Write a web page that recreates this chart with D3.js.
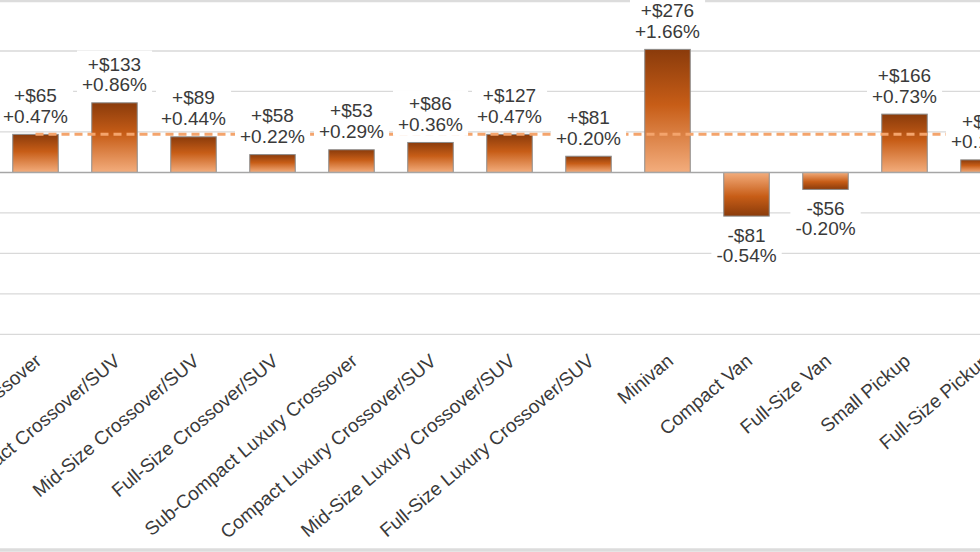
<!DOCTYPE html>
<html>
<head>
<meta charset="utf-8">
<script src="https://cdn.jsdelivr.net/npm/d3@7"></script>
<style>
  html, body { margin: 0; padding: 0; background: #fff; }
  svg { display: block; }
</style>
</head>
<body>
<svg id="chart" width="980" height="552"></svg>
<script>
const categories = [
  "Sub-Compact Crossover", "Compact Crossover/SUV", "Mid-Size Crossover/SUV",
  "Full-Size Crossover/SUV", "Sub-Compact Luxury Crossover", "Compact Luxury Crossover/SUV",
  "Mid-Size Luxury Crossover/SUV", "Full-Size Luxury Crossover/SUV", "Minivan",
  "Compact Van", "Full-Size Van", "Small Pickup", "Full-Size Pickup"
];
const barValues = [0.47, 0.86, 0.44, 0.22, 0.28, 0.37, 0.47, 0.20, 1.52, -0.54, -0.21, 0.72, 0.155];
const dollarLabels = ["+$65", "+$133", "+$89", "+$58", "+$53", "+$86", "+$127", "+$81", "+$276", "-$81", "-$56", "+$166", "+$54"];
const pctLabels = ["+0.47%", "+0.86%", "+0.44%", "+0.22%", "+0.29%", "+0.36%", "+0.47%", "+0.20%", "+1.66%", "-0.54%", "-0.20%", "+0.73%", "+0.15%"];
const averagePct = 0.47;
const yTicks = [-2, -1.5, -1, -0.5, 0.5, 1, 1.5];

const W = 980, H = 552;
const svg = d3.select("#chart");
const font = "'Liberation Sans', Arial, sans-serif";

const step = 79;
const x = d3.scaleBand()
  .domain(categories)
  .range([-4, -4 + step * categories.length])
  .paddingInner(0.424)
  .paddingOuter(0.212);
const y = d3.scaleLinear().domain([-2, 1.5]).range([334.3, 51]);
const cx = c => x(c) + x.bandwidth() / 2;

// gradients
const defs = svg.append("defs");
function grad(id, reverse) {
  const g = defs.append("linearGradient").attr("id", id)
    .attr("x1", 0).attr("y1", reverse ? 1 : 0).attr("x2", 0).attr("y2", reverse ? 0 : 1);
  g.append("stop").attr("offset", "0%").attr("stop-color", "#8a3b0b");
  g.append("stop").attr("offset", "45%").attr("stop-color", "#c75d17");
  g.append("stop").attr("offset", "100%").attr("stop-color", "#f3ad7d");
}
grad("gPos", false);
grad("gNeg", true);

// outer frame lines
svg.append("line").attr("x1", 0).attr("x2", W).attr("y1", 1).attr("y2", 1)
  .attr("stroke", "#dcdcdc").attr("stroke-width", 2.5);
svg.append("line").attr("x1", 0).attr("x2", W).attr("y1", 550).attr("y2", 550)
  .attr("stroke", "#dcdcdc").attr("stroke-width", 3.5);

// gridlines
svg.append("g").selectAll("line").data(yTicks).join("line")
  .attr("x1", 0).attr("x2", W)
  .attr("y1", d => y(d)).attr("y2", d => y(d))
  .attr("stroke", "#d9d9d9").attr("stroke-width", 1.3);

// bars
svg.append("g").selectAll("rect").data(categories).join("rect")
  .attr("x", c => x(c))
  .attr("width", x.bandwidth())
  .attr("y", (c, i) => y(Math.max(0, barValues[i])))
  .attr("height", (c, i) => Math.abs(y(barValues[i]) - y(0)))
  .attr("fill", (c, i) => barValues[i] >= 0 ? "url(#gPos)" : "url(#gNeg)")
  .attr("stroke", "#8c8c8c").attr("stroke-width", 1);

// zero line
svg.append("line").attr("x1", 0).attr("x2", W).attr("y1", y(0)).attr("y2", y(0))
  .attr("stroke", "#a6a6a6").attr("stroke-width", 1.5);

// average dashed line
svg.append("line")
  .attr("x1", cx(categories[0])).attr("x2", cx(categories[categories.length - 1]))
  .attr("y1", y(averagePct)).attr("y2", y(averagePct))
  .attr("stroke", "#f4a46c").attr("stroke-width", 3)
  .attr("stroke-dasharray", "8,5");

// data labels
const lbl = svg.append("g");
categories.forEach((c, i) => {
  const v = barValues[i];
  const g = lbl.append("g");
  let b1, b2;
  if (v >= 0) {
    b2 = y(v) - 11.6;
    b1 = b2 - 20.7;
  } else {
    b1 = y(v) + 25.4;
    b2 = b1 + 20.6;
  }
  const rect = g.append("rect").attr("fill", "#fff");
  const t = g.append("text")
    .attr("text-anchor", "middle")
    .attr("font-family", font).attr("font-size", 19)
    .attr("fill", "#3a3a3a");
  t.append("tspan").attr("x", cx(c)).attr("y", b1).text(dollarLabels[i]);
  t.append("tspan").attr("x", cx(c)).attr("y", b2).text(pctLabels[i]);
  const bb = t.node().getBBox();
  rect.attr("x", bb.x - 5).attr("y", bb.y - 3)
    .attr("width", bb.width + 10).attr("height", bb.height + 4);
});

// category labels
svg.append("g").selectAll("text").data(categories).join("text")
  .attr("transform", c => `translate(${cx(c) + 7},${363}) rotate(-40)`)
  .attr("text-anchor", "end")
  .attr("font-family", font).attr("font-size", 19)
  .attr("fill", "#3a3a3a")
  .text(c => c);
</script>
</body>
</html>
